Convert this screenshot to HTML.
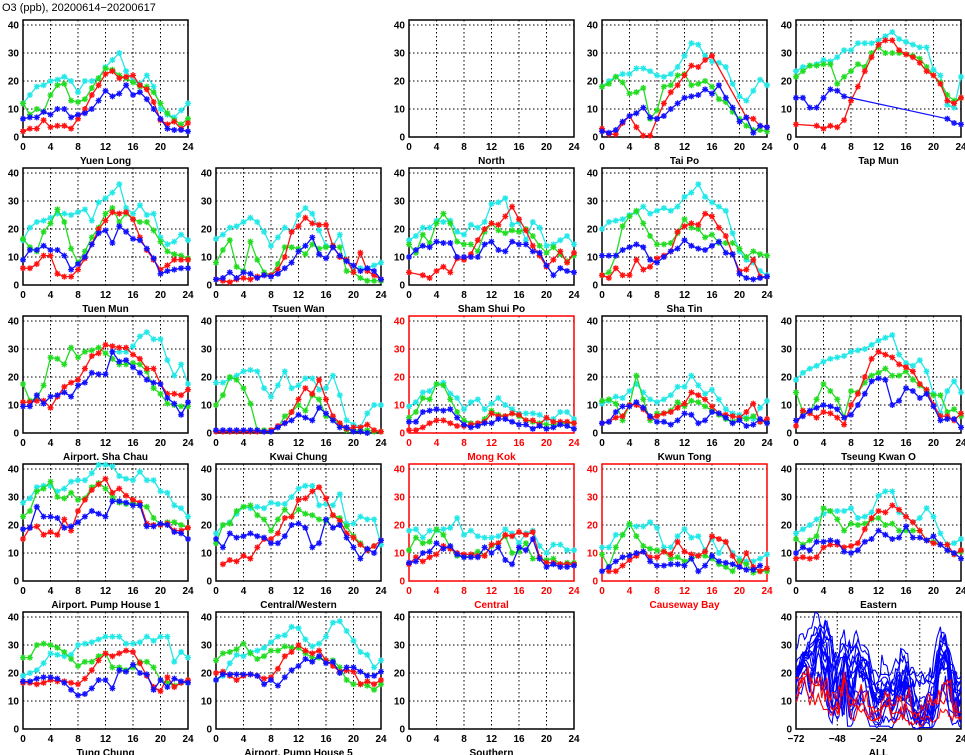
<!DOCTYPE html>
<html><head><meta charset="utf-8"><style>
html,body{margin:0;padding:0;background:#fff;}
svg{display:block;font-family:"Liberation Sans",sans-serif;}
</style></head>
<body>
<svg id="chart" width="965" height="755" viewBox="0 0 965 755">
<text x="2" y="11" font-size="11">O3 (ppb), 20200614−20200617</text>
</svg>
<script>
// Each station: [cyan, green, red, blue] hourly values 0..24 (null = missing)
const stationNames = ["Yuen Long","North","Tai Po","Tap Mun","Tuen Mun","Tsuen Wan","Sham Shui Po","Sha Tin","Airport. Sha Chau","Kwai Chung","Mong Kok","Kwun Tong","Tseung Kwan O","Airport. Pump House 1","Central/Western","Central","Causeway Bay","Eastern","Tung Chung","Airport. Pump House 5","Southern"];
const stationRoadside = [false,false,false,false,false,false,false,false,false,false,true,false,false,false,false,true,true,false,false,false,false];
const seriesColors = ["#22e8e8","#22dd22","#ff1111","#1111ff"];
const yTicks = [0,10,20,30,40];
const xTicks = [0,4,8,12,16,20,24];
const allXTicks = [-72,-48,-24,0,24];

const YuenLong_c=[12,15,18,18.5,20,20.5,21.5,20,16,20,20,21,25,27.5,30,23.5,20,19,22,18,10,8,7,9.5,12];
const YuenLong_g=[12,8,10,9,15,18.5,19,13,12.5,13.5,17.5,21,24.5,24,22,21,19.5,18,18,16,12,8.5,6,4.5,6.5];
const YuenLong_r=[2,3,3,6,3.5,4,4,3,6.5,10,15,18.5,22.5,23.5,21,21.5,22,18.5,17,12.5,6,4.5,5.5,3,5];
const YuenLong_b=[6.5,7,7,9,8,10,10,7,8,8.5,10,13,16.5,14.5,15.5,18.5,15,16,13.5,10,6.5,3,2.5,2.5,2];

const TaiPo_c=[18,20,21.5,22.5,22.5,24.5,24.5,23.5,22,21.5,22.5,25,29,33.5,33,29,27,26.5,25,19,14.5,13,16.5,20.5,18.5];
const TaiPo_g=[18,19,21.5,19.5,15.5,16,17.5,6.5,9.5,18,18.5,22,22.5,18.5,19,20,18,13.5,12.5,9,6.5,4,2.5,2.5,2];
const TaiPo_r=[3,1,1,5,7.5,3.5,0.5,0.5,6.5,12,16,18.5,22,25.5,25,27.5,29,null,null,null,null,7,6.5,4,3.5];
const TaiPo_b=[2,1.5,2.5,5.5,7.5,8.5,10.5,7,6.5,7.5,10,12,14,14.5,15,17,15.5,18.5,14,10.5,5.5,7,1.5,4,3.5];

const TapMun_c=[23.5,25,25.5,26,27.5,27,28.5,31,31,33.5,33.5,33.5,34.5,36,37.5,35,34,33,32,32,24,22,11.5,10.5,21.5];
const TapMun_g=[21.5,23.5,25.5,25.5,26,26,19,21.5,23.5,26,25,30,32,30,30,30,29.5,29,28,25,22,19.5,15,13,14];
const TapMun_r=[4.5,null,null,4,3,4,3.5,6,13,18,23.5,28.5,33,34.5,34.5,31,29.5,28.5,26.5,23.5,22,19,13,12,14];
const TapMun_b=[14,14,10.5,10.5,14,17,16.5,14.5,null,null,null,null,null,null,null,null,null,null,null,null,null,null,6.5,5,4.5];

const TuenMun_c=[16,20.5,22.5,23,24,25.5,25.5,25,26,27,23,29.5,31,33,36,27.5,25.5,28.5,25,25.5,17,14.5,15.5,18,16];
const TuenMun_g=[16.5,13.5,12,19,22,27,22.5,13,8,12,17,20.5,25.5,27.5,22.5,25.5,23.5,22.5,22.5,19.5,15.5,12,11,10.5,9.5];
const TuenMun_r=[6,6,7.5,10.5,10.5,4,3,3,5.5,9.5,14.5,20,23,26,25.5,26,23.5,17,12.5,9,5.5,7,9,9,9];
const TuenMun_b=[9,12.5,12.5,14,12.5,12.5,10.5,5.5,7.5,10,14.5,18.5,19.5,15,21,19,16.5,16,13,9.5,4,5,5.5,6,6];

const TsuenWan_c=[16.5,18,20.5,21,22.5,24,22.5,19,14,17,20.5,19,25,27.5,25.5,19.5,14,14,18,9,6,6,6,7,8];
const TsuenWan_g=[8,12.5,16,6.5,5,15.5,9,4.5,3.5,7.5,13.5,13.5,13,11,14.5,13,13.5,13.5,13.5,5,4.5,2.5,1.5,1.5,1.5];
const TsuenWan_r=[2,1.5,1,2,2.5,2,3,3.5,3.5,5.5,10,19,21,24,22,21.5,21.5,14,10,9,4.5,11.5,5,3.5,2];
const TsuenWan_b=[2,2.5,4.5,2.5,4.5,4,2.5,3.5,3,4,6,8,12,14,17,11,9.5,13.5,10.5,8.5,7,5,6,5,2];

const SSP_c=[16,17.5,20.5,20.5,23,22.5,23,19,18,21.5,20.5,22.5,29,29.5,31,21.5,22.5,16,22.5,20.5,14,14.5,16,17.5,14.5];
const SSP_g=[14.5,11.5,18,15,22,25.5,22,15.5,14.5,14.5,12,19,22,19.5,18.5,19.5,19,20,17.5,14,11.5,13.5,11,8.5,10.5];
const SSP_r=[4.5,null,3.5,2.5,5,6.5,4.5,9.5,9,11,16,20,22,21.5,24.5,28,23.5,19.5,14,10.5,6.5,9,12,8,11.5];
const SSP_b=[10,12.5,14,13.5,15.5,15,15,10,10,10,10,14.5,15.5,12.5,12,15.5,14.5,14.5,12,11.5,7,3.5,6,5,4.5];

const ShaTin_c=[20,22.5,23,23.5,25,26,28,25.5,26.5,27.5,26.5,28,31.5,33,36,31.5,29.5,28,26.5,18.5,12,9,8,5,3.5];
const ShaTin_g=[3.5,4.5,10.5,21,24.5,26.5,22,17.5,14.5,14.5,15,18.5,23.5,20.5,20,17,18,15,15,15,13,10,12,11,10.5];
const ShaTin_r=[3.5,2.5,6,3.5,3.5,9,5.5,6.5,9.5,10.5,12,19,21,22,21.5,25.5,24.5,20.5,17.5,11,5,5.5,9,3,3];
const ShaTin_b=[10.5,10.5,10.5,12.5,13.5,14.5,13.5,9,8,10,12,13,16,14,13,12.5,14,15.5,11.5,11,4,2.5,2,2.5,3];

const ASC_c=[null,null,null,null,null,null,null,null,null,null,null,null,null,29,29,29,31,34.5,36,33.5,33.5,26,20.5,24.5,17.5];
const ASC_g=[17.5,11.5,12.5,17,27,26.5,24.5,30.5,27,29,29.5,30.5,28.5,26.5,24.5,24.5,25,24.5,22,16,14,10.5,10,9.5,9.5];
const ASC_r=[11,11,11.5,11.5,9,13,16.5,18,19,23,27.5,28.5,31.5,31,30.5,30.5,28,26.5,23,23,17.5,14,14,13.5,15.5];
const ASC_b=[9.5,9.5,13.5,10.5,13,13.5,14.5,13,17,18,21.5,21,21,29,25.5,26,23.5,21.5,19,18,17.5,12.5,10.5,6.5,11];

const KwaiChung_c=[18,18,19.5,20.5,22,22.5,22,16,13,17,22,16,17,19.5,19.5,15.5,16,20.5,13.5,4.5,3,2,7,10,10];
const KwaiChung_g=[10,13.5,20,19,16,10.5,1,1,1,2,6,7.5,10,8,13.5,12,6,5,3,1,1,1,1,0.5,0.5];
const KwaiChung_r=[0.5,0.5,0.5,0.5,0.5,0.5,0.5,0.5,1,2.5,3.5,7.5,12,16,14,19,12,6,3.5,1.5,2,2,3,1,0.5];
const KwaiChung_b=[1,1,1,1,1,1,1,0.5,0.5,2,3.5,4.5,6.5,5.5,4.5,9,7,4.5,2,2,0.5,0.5,0,null,null];

const MongKok_c=[9.5,11,14.5,15,17.5,18,14,12.5,8.5,11,12,8.5,10.5,12.5,10,8.5,7,7,7,6.5,5,5,7.5,7.5,5];
const MongKok_g=[5.5,7.5,12.5,12,17.5,17,12,7.5,4.5,3.5,3,5,8,6.5,6,7,6,4.5,4,3.5,3,3,3.5,3.5,3.5];
const MongKok_r=[1,1,2,3.5,4.5,4.5,3.5,2.5,2.5,3,3.5,4,7,6,6,7,6.5,4.5,4.5,3,5.5,4,4,4,3.5];
const MongKok_b=[4,4,7.5,8,8.5,8,8.5,5.5,3,2,2.5,3.5,3.5,5,5,4,3,3,1.5,2.5,1.5,2,3,2.5,1.5];

const KwunTong_c=[10.5,11.5,13,12.5,15,17.5,14.5,12,11,12,13.5,16.5,16.5,20.5,17,14,15.5,12,8.5,7,6.5,5.5,5,9,11.5];
const KwunTong_g=[11.5,12,10.5,4.5,10,20.5,12,4.5,7,7,8,11,9.5,11.5,11,9.5,8,6.5,5,4,5.5,5,6,4,4];
const KwunTong_r=[3.5,4,5.5,6,10,10,8.5,5.5,6,7,7.5,9,10.5,14.5,13.5,12,9.5,7,6.5,6,5.5,7.5,10.5,4,5];
const KwunTong_b=[3.5,4,7.5,9.5,9.5,11,9,6,4,4,3,4.5,7,6.5,3.5,4.5,7.5,7,5.5,3.5,4.5,2.5,3,5,3.5];

const TKO_c=[19,21.5,23,24,25.5,26.5,27,27.5,29,29.5,30,31.5,33,34,35,28,25,24,26,22,14,7,15,18.5,14.5];
const TKO_g=[14.5,7.5,7.5,12,17.5,15,12,5.5,15,14.5,18,20.5,21.5,23,20.5,20.5,22,19,17,15,13.5,13.5,7.5,8.5,6];
const TKO_r=[2.5,8,7,5.5,7.5,7,5.5,3,10,14,20,26.5,29,28,27,24.5,23.5,22,17.5,15.5,10,6,6,4.5,7];
const TKO_b=[4.5,6,8,9,10,9.5,8.5,5.5,6.5,10,14,18.5,19.5,19,10,11.5,16,15,12.5,14,9.5,4.5,5,5,2];

const APH1_c=[28,29.5,33.5,34,34,32,33,35.5,36,36,38.5,41.5,41.5,41,37.5,36.5,36,39,36,36,32,31.5,27,26,23];
const APH1_g=[23,25,32,33,35.5,30,29.5,31.5,29,29.5,33.5,35,33,30,28,27.5,28,27,26.5,22.5,20,21,21,20,19];
const APH1_r=[15,19,19.5,16.5,17.5,16.5,22,18,25,29,32.5,34.5,36.5,31.5,33,30.5,29,28,20.5,20,20,20.5,18,18,19];
const APH1_b=[18.5,19,26.5,23,23,22.5,19,19.5,21,23,25,24,23,28.5,28.5,28,27,27,19.5,19.5,20.5,20,17.5,17,15];

const CW_c=[17,20,21,24,26.5,26,26.5,26,28,27.5,27.5,30,33,34,34,27,27.5,27,31,20.5,20.5,23,22,22,13];
const CW_g=[13.5,20,20.5,25,26.5,27,23.5,22,18,22,25.5,23,25.5,24,23.5,22,21.5,23.5,22.5,19.5,16,13.5,11,12.5,14.5];
const CW_r=[null,6,7.5,7,9,8,12,15,15,17,22.5,23,29,29.5,32,33.5,29.5,23.5,21.5,17,15.5,13,11,12.5,14.5];
const CW_b=[15,12,17,15.5,16,17,16,15.5,13.5,13.5,16,20,20.5,19,12,13.5,22,19,20,15.5,12,8,11.5,10,14.5];

const Central_c=[18,18.5,15.5,18,18,18.5,19,22.5,16.5,18,16,15.5,15.5,16,18.5,17,13.5,17,18,12.5,10,13,13,11,11];
const Central_g=[11,15.5,13.5,14,18.5,16.5,12,9,8.5,9,10.5,9,12.5,13.5,16,10,10.5,13.5,8,8,7.5,8,6,6.5,6.5];
const Central_r=[6,8.5,7,8.5,9.5,12.5,11.5,10,9.5,9.5,9,9,13,13.5,16.5,16,17.5,16.5,17.5,8.5,6.5,6.5,6,6,6];
const Central_b=[6.5,7,10,10.5,13.5,11.5,12.5,9.5,8.5,8.5,8.5,12,10,12,7.5,6,12,11,15,8,5,6,5,5,5.5];

const CB_c=[12,12,16.5,16.5,20,19.5,19.5,21,19,12,12,16,18.5,15.5,16,11,15,10,14,10,8,7,7,8,9.5];
const CB_g=[9.5,5,12,16.5,20.5,16,12.5,11.5,11,10.5,8,8.5,7,8,9,9,8,6,5,3.5,7,6,3,3.5,3.5];
const CB_r=[null,3.5,3.5,5.5,7.5,9,10.5,8.5,8.5,10.5,9.5,14,10.5,9.5,9,10.5,16,15,14,9,5,10,5,3.5,4.5];
const CB_b=[3.5,5,7,8.5,9,10,10.5,7,5.5,5.5,6,6,5.5,8,3.5,5.5,9,7,6.5,6,5,4,4,5.5,null];

const Eastern_c=[17,18.5,20,22,24,25,25,25,26,22.5,23,24.5,30.5,32,32,24.5,23,21,22.5,26,23,17,13,13.5,15];
const Eastern_g=[15,13,14.5,16,26,25,22,18,20.5,20,20.5,22,22.5,20,20.5,18,18,18,18,14.5,14,13,13,9.5,10.5];
const Eastern_r=[8,8.5,8,8.5,12,13,13,12,12.5,13.5,18.5,22.5,25,24.5,27,25.5,23,21,18,14.5,13.5,13,13,9.5,11];
const Eastern_b=[10,12,11,14,14,14.5,14,10.5,10,11,14,15,18,16.5,15,15.5,19.5,15.5,15.5,14.5,16,13,11,10,8];

const TC_c=[19,20,21,23.5,27,26.5,26,26.5,30,30.5,31,32,33,33,33,30.5,30.5,31,33,31.5,33,33,24,27.5,25.5];
const TC_g=[25.5,25.5,30,30.5,30,29,27.5,25,22.5,24,24,26,27,22,22,21,22,24,24,22,17.5,16.5,15.5,16.5,16.5];
const TC_r=[16.5,16.5,16,16.5,17.5,17,17,16.5,16,18,21,24.5,27,26,27,28,27.5,23.5,19,15,13.5,18.5,15,16.5,17.5];
const TC_b=[17,17,18,18.5,18.5,18,16.5,14,12,12.5,14.5,17.5,17.5,14.5,21,20.5,23,20,19.5,14,17.5,15,18,17,16.5];

const APH5_c=[17.5,19,23.5,26.5,26,27.5,28,29,31,33,33.5,36.5,36,32,29.5,30.5,33,38,38.5,35,31.5,27.5,26.5,22,24.5];
const APH5_g=[24.5,27,27.5,28.5,30.5,27,25,26,28,28,29.5,29,29,27,25.5,25.5,24.5,24.5,22,17.5,16,16,15.5,14,16];
const APH5_r=[20,20.5,19,17.5,19,19.5,19,18,18.5,21.5,26,27.5,30,28,27,28,24.5,22.5,20.5,21,20.5,16,17,16,17.5];
const APH5_b=[17.5,19.5,19.5,19.5,19.5,19.5,19,16,17.5,15.5,18.5,21,22.5,25,24,26,23.5,24,20,22,22,20.5,19,19,20.5];

const stationData = {
 "Yuen Long":[YuenLong_c,YuenLong_g,YuenLong_r,YuenLong_b],
 "North":[],
 "Tai Po":[TaiPo_c,TaiPo_g,TaiPo_r,TaiPo_b],
 "Tap Mun":[TapMun_c,TapMun_g,TapMun_r,TapMun_b],
 "Tuen Mun":[TuenMun_c,TuenMun_g,TuenMun_r,TuenMun_b],
 "Tsuen Wan":[TsuenWan_c,TsuenWan_g,TsuenWan_r,TsuenWan_b],
 "Sham Shui Po":[SSP_c,SSP_g,SSP_r,SSP_b],
 "Sha Tin":[ShaTin_c,ShaTin_g,ShaTin_r,ShaTin_b],
 "Airport. Sha Chau":[ASC_c,ASC_g,ASC_r,ASC_b],
 "Kwai Chung":[KwaiChung_c,KwaiChung_g,KwaiChung_r,KwaiChung_b],
 "Mong Kok":[MongKok_c,MongKok_g,MongKok_r,MongKok_b],
 "Kwun Tong":[KwunTong_c,KwunTong_g,KwunTong_r,KwunTong_b],
 "Tseung Kwan O":[TKO_c,TKO_g,TKO_r,TKO_b],
 "Airport. Pump House 1":[APH1_c,APH1_g,APH1_r,APH1_b],
 "Central/Western":[CW_c,CW_g,CW_r,CW_b],
 "Central":[Central_c,Central_g,Central_r,Central_b],
 "Causeway Bay":[CB_c,CB_g,CB_r,CB_b],
 "Eastern":[Eastern_c,Eastern_g,Eastern_r,Eastern_b],
 "Tung Chung":[TC_c,TC_g,TC_r,TC_b],
 "Airport. Pump House 5":[APH5_c,APH5_g,APH5_r,APH5_b],
 "Southern":[]
};
// grid position [row, col] for each station (layout, not data)
const stationCell = [[0,0],[0,2],[0,3],[0,4],[1,0],[1,1],[1,2],[1,3],[2,0],[2,1],[2,2],[2,3],[2,4],[3,0],[3,1],[3,2],[3,3],[3,4],[4,0],[4,1],[4,2]];

const NS="http://www.w3.org/2000/svg";
const svg=document.getElementById('chart');
const colX=[23,216,409,602,796], PW=165, PH=117, YMAX=41.8;
const rowZero=[137,285,433,581,729];
function mk(tag,attrs,parent){const e=document.createElementNS(NS,tag);for(const k in attrs)e.setAttribute(k,attrs[k]);(parent||svg).appendChild(e);return e;}
function slug(s){return s.toLowerCase().replace(/[^a-z0-9]+/g,'-').replace(/^-|-$/g,'');}

function drawFrame(g,x0,y0,xmin,xmax,xt,color,label,name){
  const sx=v=>x0+(v-xmin)/(xmax-xmin)*PW, sy=v=>y0-v/YMAX*PH;
  yTicks.forEach(t=>{
    if(t>0){const l=mk('line',{x1:x0,x2:x0+PW,y1:sy(t),y2:sy(t),stroke:'#000','stroke-width':1,'stroke-dasharray':'1.5,2.5'},g);
      
      }
    const tx=mk('text',{x:x0-4,y:sy(t)+3.5,'font-size':10,'font-weight':'bold','text-anchor':'end',fill:color},g);
    tx.textContent=t;
    
    
  });
  xt.forEach((t,i)=>{
    if(i>0&&i<xt.length-1){const l=mk('line',{x1:sx(t),x2:sx(t),y1:y0-PH,y2:y0,stroke:'#000','stroke-width':1,'stroke-dasharray':'1.5,2.5'},g);
      
      }
    const tx=mk('text',{x:sx(t),y:y0+13,'font-size':10,'font-weight':'bold','text-anchor':'middle',fill:color},g);
    tx.textContent=(t<0?'−'+(-t):t);
    
    
  });
  const fr=mk('rect',{x:x0,y:y0-PH,width:PW,height:PH,fill:'none',stroke:color,'stroke-width':1.5},g);
  
  
  const tt=mk('text',{x:x0+PW/2,y:y0+27,'font-size':10,'font-weight':'bold','text-anchor':'middle',fill:color},g);
  tt.textContent=label;
  
  
  return {sx,sy};
}
const star="M-3,0H3M0,-3V3M-2.2,-2.2L2.2,2.2M-2.2,2.2L2.2,-2.2";

stationNames.forEach((nm,si)=>{
  const [r,c]=stationCell[si]; const x0=colX[c], y0=rowZero[r];
  const name=slug(nm);
  const g=mk('g',{});
  
  
  const color=stationRoadside[si]?'#ff0000':'#000';
  const {sx,sy}=drawFrame(g,x0,y0,0,24,xTicks,color,nm,name);
  stationData[nm].forEach((vals,k)=>{
    let d='';let started=false;
    vals.forEach((v,h)=>{if(v===null)return;d+=(started?'L':'M')+sx(h).toFixed(1)+','+sy(v).toFixed(1);started=true;});
    const p=mk('path',{d:d,fill:'none',stroke:seriesColors[k],'stroke-width':1.3},g);
    
    
    vals.forEach((v,h)=>{if(v===null)return;
      const m=mk('path',{d:star,transform:'translate('+sx(h).toFixed(1)+','+sy(v).toFixed(1)+')',stroke:seriesColors[k],'stroke-width':1.3,fill:'none'},g);
      
      
    });
  });
});

// ALL panel: 96-hour series for each station
(function(){
  const x0=colX[4], y0=rowZero[4];
  const g=mk('g',{});
  
  
  const {sx,sy}=drawFrame(g,x0,y0,-72,24,allXTicks,'#000','ALL','all');
  const order=[0,1,3,2];
  const lines=[];
  stationNames.forEach((nm,si)=>{
    const arr=stationData[nm]; if(!arr.length)return;
    const full=[];
    order.forEach((k,j)=>{const s=arr[k];const n=j<3?24:25;for(let h=0;h<n;h++)full.push(s[h]);});
    lines.push({full,road:stationRoadside[si],name:slug(nm)});
  });
  lines.sort((a,b)=>a.road-b.road);
  lines.forEach(L=>{
    let d='';let started=false;
    L.full.forEach((v,i)=>{if(v===null)return;d+=(started?'L':'M')+sx(i-72).toFixed(1)+','+sy(v).toFixed(1);started=true;});
    const p=mk('path',{d:d,fill:'none',stroke:L.road?'#ff0000':'#0000ff','stroke-width':1.1},g);
    
    
  });
})();
</script>
</body></html>
